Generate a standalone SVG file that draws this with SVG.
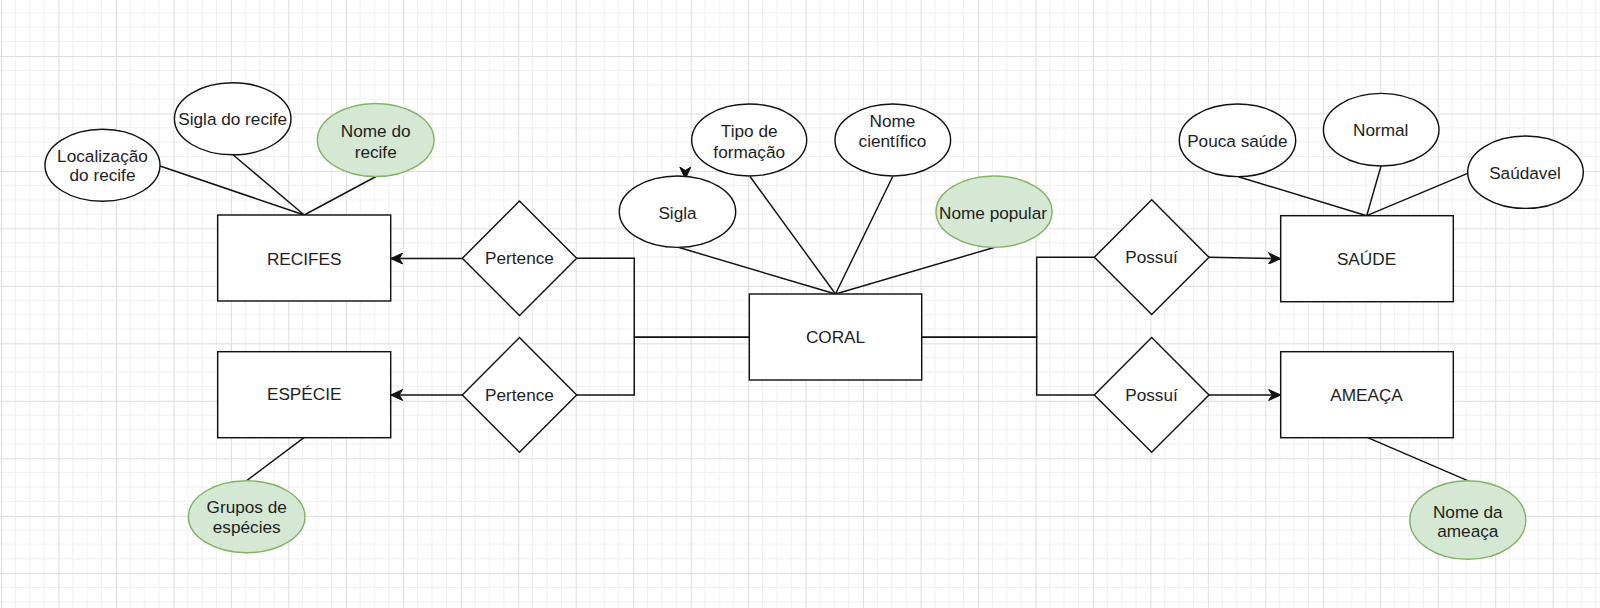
<svg xmlns="http://www.w3.org/2000/svg" width="1600" height="608" viewBox="0 0 1600 608">
<style>
.ent{fill:#fff;stroke:#111;stroke-width:1.44}
.attr{fill:#fff;stroke:#111;stroke-width:1.44}
.key{fill:#d5e8d4;stroke:#82b366;stroke-width:1.44}
.rel{fill:#fff;stroke:#111;stroke-width:1.44}
.lbl{font-family:"Liberation Sans",Arial,Helvetica,sans-serif;font-size:17.2px;fill:#1e1e1e;text-anchor:middle}
.edge{fill:none;stroke:#111;stroke-width:1.44}
.arr{marker-end:url(#arrow)}
</style>
<defs>
<pattern id="grid" patternUnits="userSpaceOnUse" x="1" y="-1.5" width="57.47" height="57.47">
<path d="M14.37,0V57.47M28.73,0V57.47M43.1,0V57.47M0,14.37H57.47M0,28.73H57.47M0,43.1H57.47" stroke="#f0f0f0" stroke-width="1" fill="none"/>
<path d="M0.5,0V57.47M0,0.5H57.47" stroke="#dddddd" stroke-width="1" fill="none"/>
</pattern>
<marker id="arrow" markerUnits="userSpaceOnUse" viewBox="-13 -6 14 12" refX="0" refY="0" markerWidth="14" markerHeight="12" orient="auto">
<path d="M0,0 L-12,-5.5 L-8.5,0 L-12,5.5 Z" fill="#111" stroke="#111" stroke-width="1"/>
</marker>
</defs>
<rect x="0" y="0" width="1600" height="608" fill="#fff"/>
<rect x="0" y="0" width="1600" height="608" fill="url(#grid)"/>

<g id="connectors">
<path class="edge" d="M160,166 L304.2,215"/>
<path class="edge" d="M233.3,155 L304.2,215"/>
<path class="edge" d="M376,176.5 L304.2,215"/>
<path class="edge arr" d="M462.3,258.5 L390.7,258.5"/>
<path class="edge" d="M749.3,337.3 L634.3,337.3 L634.3,258.3 L576.7,258.3"/>
<path class="edge" d="M749.3,337.3 L634.3,337.3 L634.3,395 L576.7,395"/>
<path class="edge arr" d="M462.3,395 L390.7,395"/>
<path class="edge" d="M304,437.7 L246.7,480.7"/>
<path class="edge" d="M678.3,247.3 L835.5,294"/>
<path class="edge" d="M750,176.5 L835.5,294"/>
<path class="edge" d="M892.7,176.5 L835.5,294"/>
<path class="edge" d="M994,247.5 L835.5,294"/>
<path class="edge" d="M921.7,337.3 L1036.7,337.3 L1036.7,257.3 L1094.3,257.3"/>
<path class="edge" d="M921.7,337.3 L1036.7,337.3 L1036.7,395 L1094.3,395"/>
<path class="edge arr" d="M1209,257.3 L1280.7,258.7"/>
<path class="edge arr" d="M1209,395 L1280.7,395"/>
<path class="edge" d="M1238.3,176.7 L1366.7,215.7"/>
<path class="edge" d="M1381,166 L1366.7,215.7"/>
<path class="edge" d="M1467.7,173.3 L1366.7,215.7"/>
<path class="edge" d="M1367.7,437.7 L1467.7,480.7"/>
<path class="edge arr" d="M685.3,170 L685.3,179"/>
</g>

<g id="recifes"><rect class="ent" x="217.7" y="215" width="173" height="86"/><text class="lbl" x="304.2" y="264.5">RECIFES</text></g>
<g id="especie"><rect class="ent" x="217.7" y="351.7" width="173" height="86"/><text class="lbl" x="304.2" y="400.3">ESPÉCIE</text></g>
<g id="coral"><rect class="ent" x="749.3" y="294" width="172.4" height="86"/><text class="lbl" x="835.5" y="343.3">CORAL</text></g>
<g id="saude"><rect class="ent" x="1280.7" y="215.7" width="172.6" height="86"/><text class="lbl" x="1366.5" y="265">SAÚDE</text></g>
<g id="ameaca"><rect class="ent" x="1280.7" y="351.7" width="172.6" height="86"/><text class="lbl" x="1366.5" y="401">AMEAÇA</text></g>

<g id="pertence1"><polygon class="rel" points="519.5,201 576.7,258.3 519.5,315.5 462.3,258.3"/><text class="lbl" x="519.5" y="264.3">Pertence</text></g>
<g id="pertence2"><polygon class="rel" points="519.5,337.5 576.7,395 519.5,452.3 462.3,395"/><text class="lbl" x="519.5" y="401">Pertence</text></g>
<g id="possui1"><polygon class="rel" points="1151.7,199.7 1209,257.3 1151.7,314.5 1094.3,257.3"/><text class="lbl" x="1151.5" y="262.8">Possuí</text></g>
<g id="possui2"><polygon class="rel" points="1151.7,337.5 1209,395 1151.7,452.3 1094.3,395"/><text class="lbl" x="1151.5" y="400.5">Possuí</text></g>

<g id="localizacao"><ellipse class="attr" cx="102.5" cy="165.3" rx="57.5" ry="36"/><text class="lbl" x="102.5" y="161.8">Localização</text><text class="lbl" x="102.5" y="181.3">do recife</text></g>
<g id="sigla-recife"><ellipse class="attr" cx="232.7" cy="118.8" rx="58.3" ry="36"/><text class="lbl" x="232.7" y="124.8">Sigla do recife</text></g>
<g id="nome-recife"><ellipse class="key" cx="375.7" cy="140" rx="58.3" ry="36.5"/><text class="lbl" x="375.7" y="137">Nome do</text><text class="lbl" x="375.7" y="157.5">recife</text></g>
<g id="grupos"><ellipse class="key" cx="246.7" cy="516.7" rx="58.3" ry="36"/><text class="lbl" x="246.7" y="512.7">Grupos de</text><text class="lbl" x="246.7" y="532.7">espécies</text></g>
<g id="sigla"><ellipse class="attr" cx="677.5" cy="211.7" rx="58.2" ry="35.7"/><text class="lbl" x="677.5" y="218.5">Sigla</text></g>
<g id="tipo"><ellipse class="attr" cx="749.2" cy="140" rx="57.5" ry="36"/><text class="lbl" x="749.2" y="136.7">Tipo de</text><text class="lbl" x="749.2" y="157.5">formação</text></g>
<g id="nome-cientifico"><ellipse class="attr" cx="892.8" cy="140" rx="57.8" ry="36"/><text class="lbl" x="892.5" y="127">Nome</text><text class="lbl" x="892.5" y="146.7">científico</text></g>
<g id="nome-popular"><ellipse class="key" cx="994" cy="211.7" rx="58" ry="35.7"/><text class="lbl" x="993" y="218.5">Nome popular</text></g>
<g id="pouca-saude"><ellipse class="attr" cx="1237.5" cy="140.3" rx="58.2" ry="36.3"/><text class="lbl" x="1237.3" y="147">Pouca saúde</text></g>
<g id="normal"><ellipse class="attr" cx="1381.2" cy="129.7" rx="57.8" ry="36.3"/><text class="lbl" x="1380.7" y="136">Normal</text></g>
<g id="saudavel"><ellipse class="attr" cx="1525.5" cy="172.2" rx="57.8" ry="36.2"/><text class="lbl" x="1525" y="179.3">Saúdavel</text></g>
<g id="nome-ameaca"><ellipse class="key" cx="1467.8" cy="520" rx="58" ry="39.3"/><text class="lbl" x="1467.8" y="517.7">Nome da</text><text class="lbl" x="1467.8" y="537">ameaça</text></g>
</svg>
